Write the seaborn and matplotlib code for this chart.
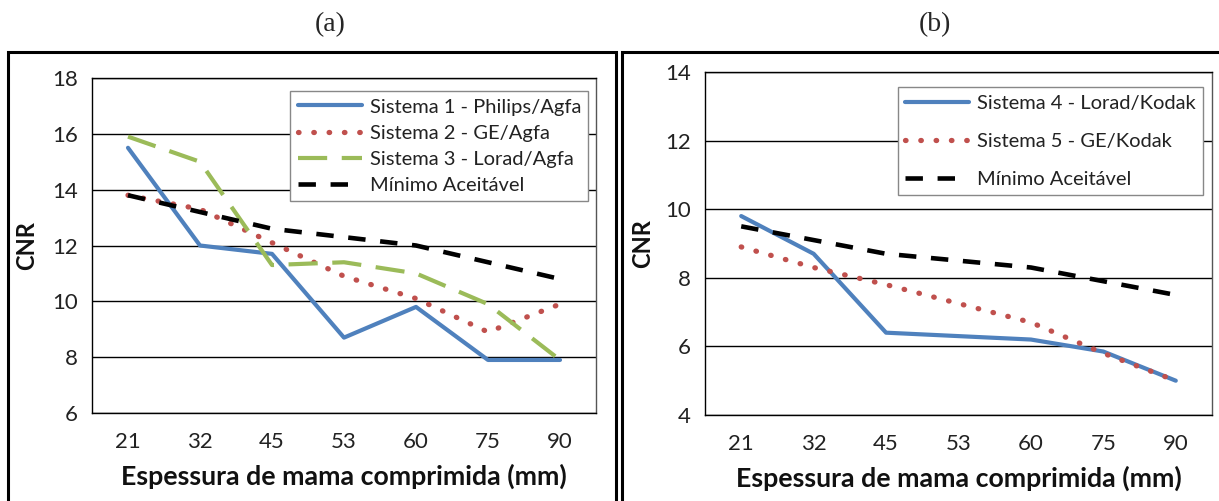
import matplotlib.pyplot as plt
import matplotlib.patches as patches
import seaborn as sns
import numpy as np

# data
espessura = ["21", "32", "45", "53", "60", "75", "90"]

sistema1 = [15.5, 12.0, 11.7, 8.7, 9.8, 7.9, 7.9]
sistema2 = [13.8, 13.3, 12.1, 10.9, 10.1, 8.9, 9.9]
sistema3 = [15.9, 15.0, 11.3, 11.4, 11.0, 9.9, 7.9]
minimo_a = [13.8, 13.2, 12.6, 12.3, 12.0, 11.4, 10.8]

sistema4 = [9.8, 8.7, 6.4, 6.3, 6.2, 5.85, 5.0]
sistema5 = [8.9, 8.3, 7.8, 7.25, 6.7, 5.8, 5.0]
minimo_b = [9.5, 9.1, 8.7, 8.5, 8.3, 7.9, 7.5]

sns.set_style("white")
plt.rcParams['font.family'] = ['Lato', 'DejaVu Sans']

W, H = 1219, 501
fig = plt.figure(figsize=(W / 100, H / 100), dpi=100)

blue = "#4F81BD"
red = "#C0504D"
green = "#9BBB59"

styles = {
    "solid": dict(linestyle="-", linewidth=3.0),
    "dot": dict(linestyle=(0, (0.1, 2.8)), linewidth=3.8, dash_capstyle="round"),
    "long": dict(linestyle=(0, (7, 3.5)), linewidth=3.0),
    "dash": dict(linestyle=(0, (3.8, 3.2)), linewidth=3.3),
}


def px_axes(left, right, top, bottom):
    return fig.add_axes([left / W, 1 - bottom / H, (right - left) / W, (bottom - top) / H])


def draw_panel(ax, series, ylim, yticks, ylabel_x):
    x = np.arange(len(espessura))
    for label, vals, color, st in series:
        sns.lineplot(x=x, y=vals, ax=ax, color=color, label=label, **styles[st])
    ax.set_xlim(-0.5, len(espessura) - 0.5)
    ax.set_ylim(*ylim)
    ax.set_yticks(yticks)
    ax.set_xticks(x)
    ax.set_xticklabels(espessura)
    ax.set_xticks(np.arange(-0.5, len(espessura)), minor=True)
    ax.tick_params(axis="x", which="major", length=0, pad=14, labelsize=16, colors="#222222")
    ax.tick_params(axis="x", which="minor", length=7, width=1.0, color="black", direction="out")
    ax.tick_params(axis="y", length=6, width=1.0, color="black", direction="out",
                   labelsize=16, colors="#222222", pad=4)
    ax.grid(axis="y", color="black", linewidth=1.0)
    ax.set_axisbelow(True)
    for side in ["left", "bottom", "top", "right"]:
        ax.spines[side].set_visible(True)
        ax.spines[side].set_color("black")
        ax.spines[side].set_linewidth(1.0)
    ax.spines["right"].set_color("#555555")
    ax.set_xlabel("Espessura de mama comprimida (mm)", fontsize=19.3, fontweight="bold",
                  labelpad=8, color="#111111")
    ax.set_ylabel("CNR", fontsize=17, fontweight="bold", color="#111111")
    ax.yaxis.set_label_coords(ylabel_x, 0.5)


# panel borders
for left, right in [(8, 616), (622, 1226)]:
    fig.patches.append(patches.Rectangle((left / W, -0.05), (right - left) / W, 1.05 - 52 / H,
                                         transform=fig.transFigure, fill=False,
                                         edgecolor="black", linewidth=2.2))

ax1 = px_axes(92, 596, 78, 413)
draw_panel(ax1, [
    ("Sistema 1 - Philips/Agfa", sistema1, blue, "solid"),
    ("Sistema 2 - GE/Agfa", sistema2, red, "dot"),
    ("Sistema 3 - Lorad/Agfa", sistema3, green, "long"),
    ("Mínimo Aceitável", minimo_a, "black", "dash"),
], (6, 18), [6, 8, 10, 12, 14, 16, 18], -0.107)

ax2 = px_axes(705, 1212, 72, 415)
draw_panel(ax2, [
    ("Sistema 4 - Lorad/Kodak", sistema4, blue, "solid"),
    ("Sistema 5 - GE/Kodak", sistema5, red, "dot"),
    ("Mínimo Aceitável", minimo_b, "black", "dash"),
], (4, 14), [4, 6, 8, 10, 12, 14], -0.10)

for ax, loc_box, spacing in [(ax1, (0.985, 0.96), 0.45), (ax2, (0.982, 0.955), 1.05)]:
    leg = ax.legend(loc="upper right", bbox_to_anchor=loc_box, fontsize=14.5, frameon=True,
                    fancybox=False, edgecolor="#888888", framealpha=1, borderpad=0.35,
                    labelspacing=spacing, handlelength=3.2,
                    handletextpad=0.4, borderaxespad=0.0)
    leg.get_frame().set_linewidth(1.0)
    for t in leg.get_texts():
        t.set_color("#222222")

fig.text(330 / W, 1 - 25 / H, "(a)", ha="center", va="center", fontsize=20,
         family=["Liberation Serif", "DejaVu Serif"])
fig.text(935 / W, 1 - 25 / H, "(b)", ha="center", va="center", fontsize=20,
         family=["Liberation Serif", "DejaVu Serif"])

fig.savefig("out.png", dpi=100)
